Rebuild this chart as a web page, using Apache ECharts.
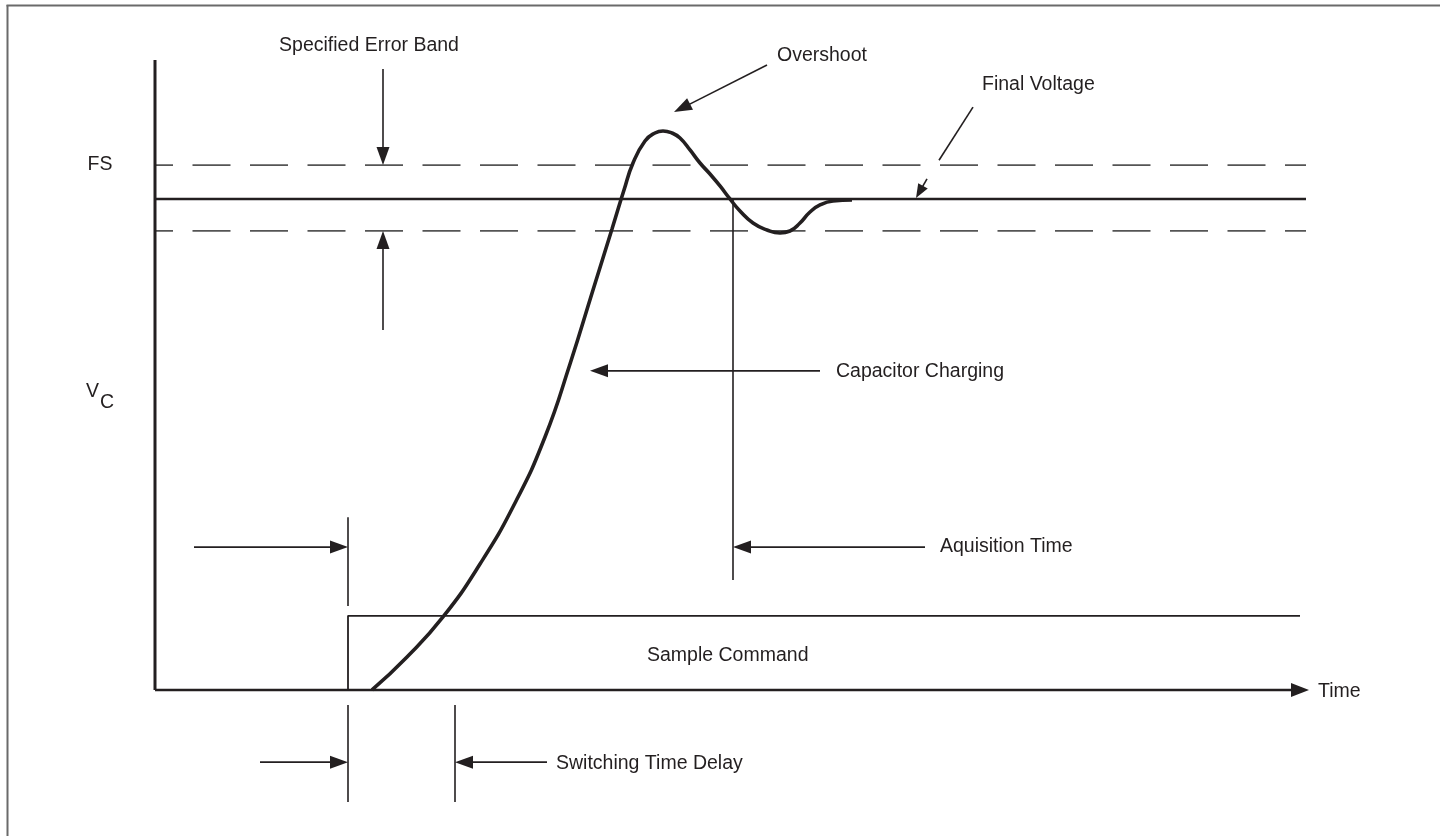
<!DOCTYPE html>
<html>
<head>
<meta charset="utf-8">
<script src="https://cdn.jsdelivr.net/npm/echarts@6/dist/echarts.min.js"></script>
<style>
html,body{margin:0;padding:0;background:#fff;}
#chart{width:1440px;height:836px;}
</style>
</head>
<body>
<div id="chart"></div>
<script>
// ---- data (time units / percent of final voltage) ----
const finalVoltage = 100;
const bandUpper = 106.9;
const bandLower = 93.5;
const timeEnd = 115.1;

// capacitor voltage response V_C(t)
const responseCurve = [
  [21.7, 0], [25.2, 6.72], [28.8, 14.87], [32.5, 25.66], [36.0, 38.09], [39.0, 51.53],
  [41.5, 66.40], [43.8, 81.47], [45.7, 93.89], [46.9, 101.83], [47.8, 107.33], [49.0, 111.81],
  [50.0, 113.44], [50.8, 113.85], [51.7, 113.44], [52.5, 112.42], [53.5, 109.98], [54.5, 107.33],
  [55.5, 105.09], [56.5, 102.65], [57.5, 100.0], [58.5, 97.56], [59.8, 95.11], [61.2, 93.69],
  [62.5, 93.08], [63.5, 93.48], [64.5, 95.11], [65.5, 97.35], [66.5, 98.78], [67.8, 99.59], [69.7, 99.8]
];
// sample command step
const sampleCommand = [[19.3, 0], [19.3, 15.1], [114.5, 15.1]];

// axes
const yAxisSegment = [[0, 0, 0, 128.3]];
const timeAxisArrow = [[0, 0, 115.4, 0]];

// thin marker segments [x1, y1, x2, y2]
const markerSegments = [
  [57.8, 100, 57.8, 22.4],
  [19.3, 35.2, 19.3, 17.1],
  [19.3, -3.05, 19.3, -22.8],
  [30.0, -3.05, 30.0, -22.8],
  [81.8, 118.7, 78.4, 107.9]
];
// annotation arrows [fromX, fromY, tipX, tipY]
const annotationArrows = [
  [22.8, 126.5, 22.8, 106.9],
  [22.8, 73.3, 22.8, 93.5],
  [61.2, 127.3, 51.9, 117.7],
  [66.5, 65.0, 43.5, 65.0],
  [77.0, 29.1, 57.8, 29.1],
  [3.9, 29.1, 19.3, 29.1],
  [10.5, -14.7, 19.3, -14.7],
  [39.2, -14.7, 30.0, -14.7]
];
const finalVoltageArrow = [[77.2, 104.1, 76.1, 100.2]];

// labels
const centeredLabelTexts = ['Specified Error Band', 'FS'];
const centeredLabelAnchors = [[21.4, 131.2], [-5.5, 106.9]];
const leftLabelTexts = ['Overshoot', 'Final Voltage', 'Capacitor Charging', 'Aquisition Time',
  'Sample Command', 'Time', 'Switching Time Delay', 'V', 'C'];
const leftLabelAnchors = [[62.2, 129.3], [82.7, 123.2], [68.1, 64.8], [78.5, 29.1],
  [49.2, 6.9], [116.3, -0.4], [40.1, -14.9], [-6.9, 60.7], [-5.5, 58.5]];

// ---- rendering ----
const INK = '#231f20';
const FONT = '19.5px "Liberation Sans", Arial, Helvetica, sans-serif';
const X_MIN = -15.5, X_MAX = 128.5, Y_MIN = -29.74, Y_MAX = 140.53;

function arrowRenderer(headLen, headW, lw) {
  return function (params, api) {
    const a = api.coord([api.value(0), api.value(1)]);
    const b = api.coord([api.value(2), api.value(3)]);
    const dx = b[0] - a[0], dy = b[1] - a[1];
    const len = Math.hypot(dx, dy) || 1;
    const ux = dx / len, uy = dy / len;
    const bx = b[0] - ux * headLen, by = b[1] - uy * headLen;
    const px = -uy * headW / 2, py = ux * headW / 2;
    return {
      type: 'group',
      children: [
        { type: 'line', shape: { x1: a[0], y1: a[1], x2: bx + ux * 2, y2: by + uy * 2 },
          style: { stroke: INK, lineWidth: lw } },
        { type: 'polygon', shape: { points: [[b[0], b[1]], [bx + px, by + py], [bx - px, by - py]] },
          style: { fill: INK } }
      ]
    };
  };
}
function segmentRenderer(lw) {
  return function (params, api) {
    const a = api.coord([api.value(0), api.value(1)]);
    const b = api.coord([api.value(2), api.value(3)]);
    return { type: 'line', shape: { x1: a[0], y1: a[1], x2: b[0], y2: b[1] },
      style: { stroke: INK, lineWidth: lw } };
  };
}
function textRenderer(texts, align) {
  return function (params, api) {
    const p = api.coord([api.value(0), api.value(1)]);
    return { type: 'text', x: p[0], y: p[1],
      style: { text: texts[params.dataIndex], font: FONT, fill: INK, align: align, verticalAlign: 'middle' } };
  };
}
function segSeries(data, render) {
  return { type: 'custom', clip: false, silent: true, dimensions: ['x1', 'y1', 'x2', 'y2'],
    encode: { x: [0, 2], y: [1, 3] }, renderItem: render, data: data };
}
function textSeries(anchors, render) {
  return { type: 'custom', clip: false, silent: true, renderItem: render, data: anchors,
    encode: { x: 0, y: 1 } };
}
function hLine(y, style) {
  return { type: 'line', symbol: 'none', silent: true, data: [[0, y], [timeEnd, y]], lineStyle: style, z: 1 };
}

const chart = echarts.init(document.getElementById('chart'), null, { renderer: 'canvas' });
chart.setOption({
  animation: false,
  backgroundColor: '#fff',
  grid: { left: 0, right: 0, top: 0, bottom: 0 },
  xAxis: { type: 'value', min: X_MIN, max: X_MAX, show: false },
  yAxis: { type: 'value', min: Y_MIN, max: Y_MAX, show: false },
  graphic: [
    { type: 'line', shape: { x1: 6.5, y1: 5.5, x2: 1440, y2: 5.5 }, style: { stroke: '#6a6a6a', lineWidth: 2 } },
    { type: 'line', shape: { x1: 7.5, y1: 5, x2: 7.5, y2: 836 }, style: { stroke: '#6a6a6a', lineWidth: 2 } }
  ],
  series: [
    hLine(bandUpper, { color: '#555', width: 1.6, type: [38, 19.5], dashOffset: 20 }),
    hLine(bandLower, { color: '#555', width: 1.6, type: [38, 19.5], dashOffset: 20 }),
    hLine(finalVoltage, { color: INK, width: 2.6 }),
    { type: 'line', symbol: 'none', silent: true, data: sampleCommand,
      lineStyle: { color: INK, width: 1.8 } },
    { type: 'line', symbol: 'none', silent: true, smooth: 0.5, data: responseCurve,
      lineStyle: { color: INK, width: 3.6 }, z: 3 },
    segSeries(yAxisSegment, segmentRenderer(3)),
    segSeries(timeAxisArrow, arrowRenderer(18, 14, 2.6)),
    segSeries(markerSegments, segmentRenderer(1.6)),
    segSeries(annotationArrows, arrowRenderer(18, 13, 1.6)),
    segSeries(finalVoltageArrow, arrowRenderer(14, 11, 1.6)),
    textSeries(centeredLabelAnchors, textRenderer(centeredLabelTexts, 'center')),
    textSeries(leftLabelAnchors, textRenderer(leftLabelTexts, 'left'))
  ]
});
</script>
</body>
</html>
